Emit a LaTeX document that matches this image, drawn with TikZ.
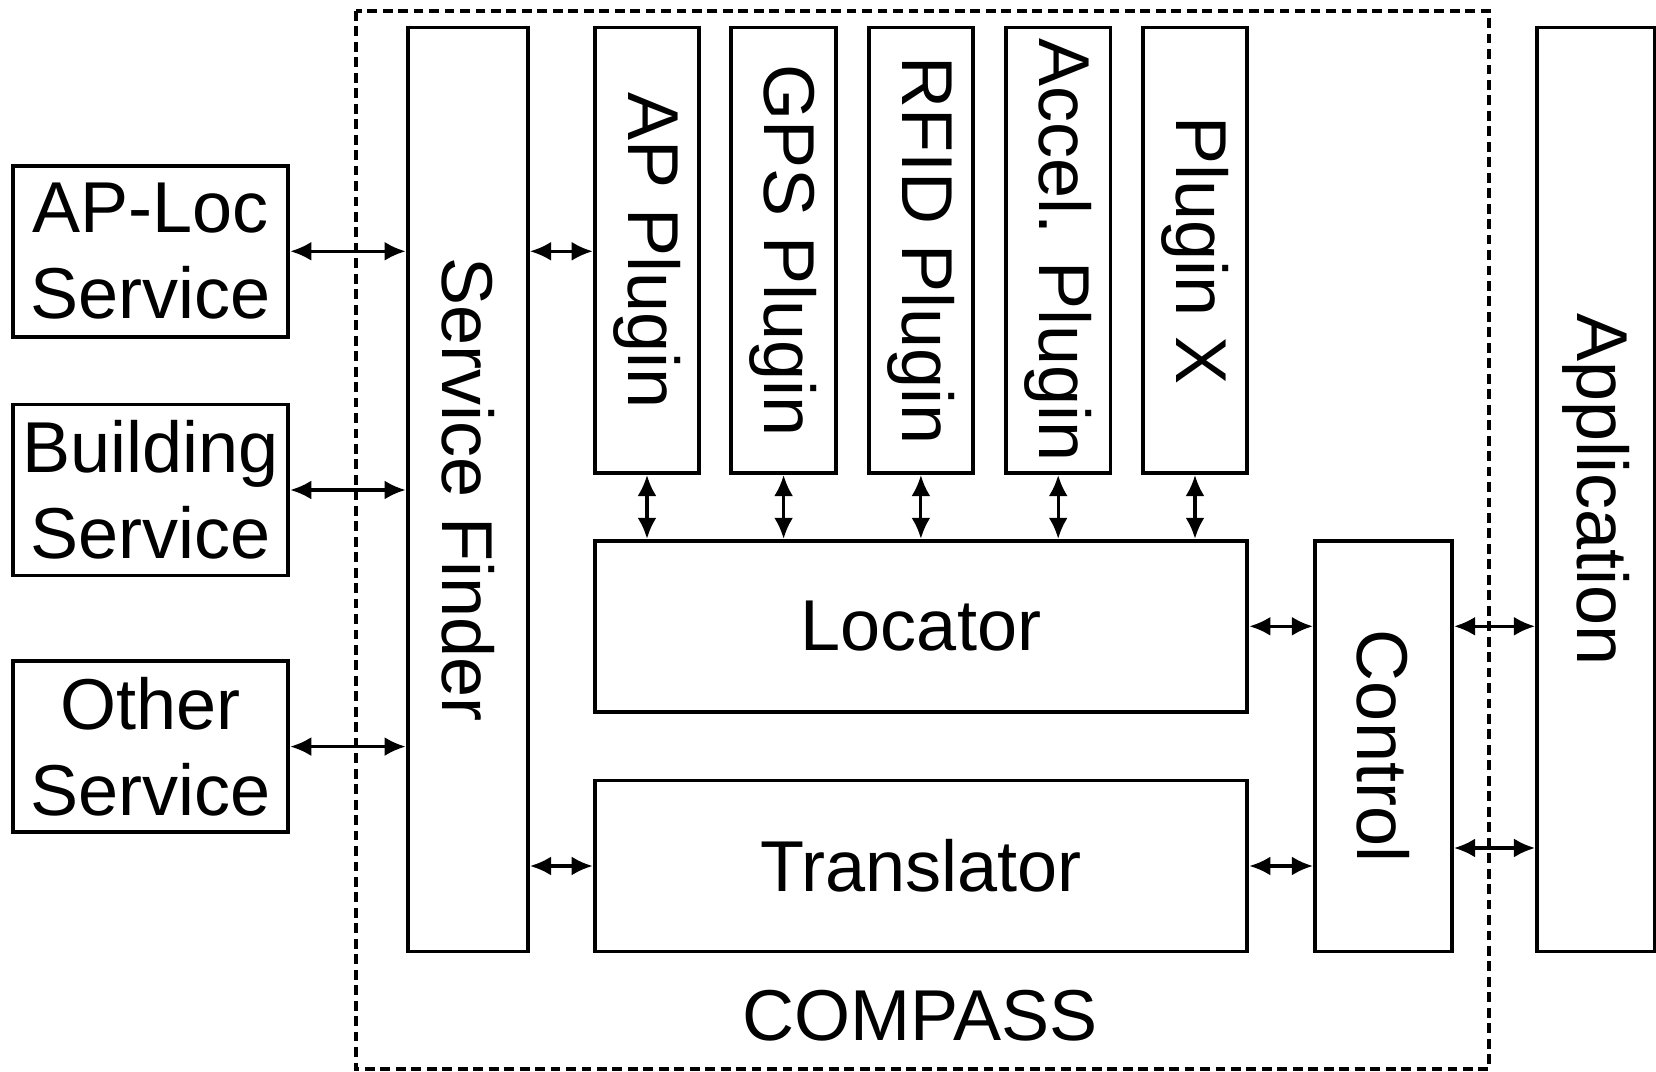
\documentclass[tikz,border=0pt]{standalone}
\usepackage{fontspec}
\setmainfont{Liberation Sans}
\usetikzlibrary{arrows.meta}
\tikzset{
	box/.style={draw,line width=1.1pt,rectangle,inner sep=0pt,align=center,
		font=\fontsize{20.5}{24.5}\selectfont},
	link/.style={{Latex[length=6pt,width=5.4pt]}-{Latex[length=6pt,width=5.4pt]},line width=0.9pt}
}
\newcommand{\vlabel}[1]{\rotatebox{-90}{#1}}
\begin{document}
\begin{tikzpicture}
			\useasboundingbox (0,0) rectangle (16.56,-10.72);
			\draw[line width=1pt,dash pattern=on 2.8pt off 1.6pt] (3.56,-0.11) rectangle (14.89,-10.69);
			\node[font=\fontsize{20.5}{24.5}\selectfont] (compass) at (9.2,-10.16) {COMPASS};
			\begin{scope}[every node/.style={box}]
				\node[minimum width=2.756cm,minimum height=1.71cm] (aploc) at (1.505,-2.513) {AP-Loc\\Service};
				\node[minimum width=2.756cm,minimum height=1.71cm] (bldg) at (1.505,-4.90) {Building\\Service};
				\node[minimum width=2.756cm,minimum height=1.71cm] (other) at (1.505,-7.466) {Other\\Service};
				\node[minimum width=1.204cm,minimum height=9.24cm] (finder) at (4.678,-4.895) {\vlabel{Service Finder}};
				\node[minimum width=1.045cm,minimum height=4.456cm] (applug) at (6.47,-2.503) {\vlabel{AP Plugin}};
				\node[minimum width=1.045cm,minimum height=4.456cm] (gpsplug) at (7.836,-2.503) {\vlabel{GPS Plugin}};
				\node[minimum width=1.045cm,minimum height=4.456cm] (rfidplug) at (9.209,-2.503) {\vlabel{RFID Plugin}};
				\node[minimum width=1.045cm,minimum height=4.456cm] (accplug) at (10.582,-2.503) {\vlabel{Accel. Plugin}};
				\node[minimum width=1.045cm,minimum height=4.456cm] (xplug) at (11.95,-2.503) {\vlabel{Plugin X}};
				\node[minimum width=6.527cm,minimum height=1.71cm] (locator) at (9.21,-6.263) {Locator};
				\node[minimum width=6.527cm,minimum height=1.71cm] (trans) at (9.21,-8.66) {Translator};
				\node[minimum width=1.372cm,minimum height=4.108cm] (control) at (13.835,-7.461) {\vlabel{Control}};
				\node[minimum width=1.18cm,minimum height=9.24cm] (app) at (15.96,-4.895) {\vlabel{Application}};
			\end{scope}
			\begin{scope}[every path/.style={link}]
				\draw (aploc.east) -- (aploc.east -| finder.west);
				\draw (bldg.east) -- (bldg.east -| finder.west);
				\draw (other.east) -- (other.east -| finder.west);
				\draw (applug.west |- aploc.east) -- (finder.east |- aploc.east);
				\draw (finder.east |- trans.west) -- (trans.west);
				\foreach \p in {applug,gpsplug,rfidplug,accplug,xplug}
					\draw (\p.south) -- (\p.south |- locator.north);
				\draw (locator.east) -- (locator.east -| control.west);
				\draw (trans.east) -- (trans.east -| control.west);
				\draw (control.east |- locator.east) -- (app.west |- locator.east);
				\coordinate (low) at (14.5,-8.48);
				\draw (control.east |- low) -- (app.west |- low);
			\end{scope}
		\end{tikzpicture}
\end{document}
